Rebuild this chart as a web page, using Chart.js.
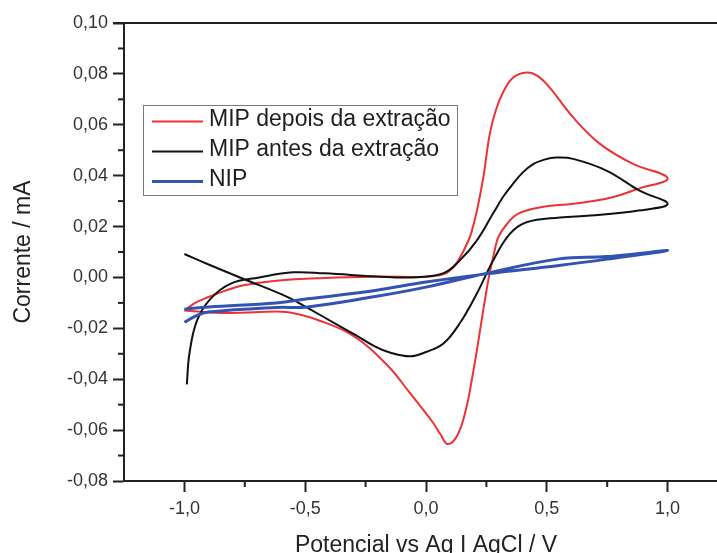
<!DOCTYPE html>
<html>
<head>
<meta charset="utf-8">
<script src="https://cdn.jsdelivr.net/npm/chart.js@4.4.0/dist/chart.umd.min.js"></script>
<style>
html, body { margin:0; padding:0; overflow:hidden; background:#fff; }
#wrap { width:740px; height:570px; }
</style>
</head>
<body>
<div id="wrap"><canvas id="cv"></canvas></div>
<script>
// MIP depois da extração (red)
const redPotential = [-1.00,-0.955,-0.90,-0.83,-0.76,-0.62,-0.42,-0.21,0.00,0.07,0.113,0.15,0.189,0.233,0.264,0.29,0.32,0.36,0.417,0.46,0.512,0.609,0.72,0.855,1.00,
  0.884,0.75,0.61,0.47,0.38,0.335,0.30,0.285,0.26,0.235,0.21,0.19,0.165,0.13,0.09,0.06,0.03,-0.066,-0.16,-0.30,-0.44,-0.57,-0.71,-0.85,-1.00]
const redCurrent = [-0.013,-0.010,-0.0077,-0.0052,-0.0032,-0.0013,-0.0002,0.0003,0.0003,0.0012,0.004,0.0095,0.018,0.037,0.0564,0.066,0.073,0.0785,0.0805,0.0793,0.0746,0.0629,0.0525,0.0447,0.039,
  0.035,0.031,0.029,0.0275,0.025,0.021,0.016,0.011,0.000,-0.014,-0.029,-0.040,-0.052,-0.062,-0.0655,-0.0617,-0.0572,-0.0455,-0.0345,-0.023,-0.017,-0.0137,-0.0137,-0.014,-0.013]

// MIP antes da extração (black)
const blackPotential = [-1.00,-0.90,-0.76,-0.57,-0.49,-0.35,-0.30,-0.21,-0.15,-0.066,0.00,0.072,0.14,0.21,0.278,0.347,0.416,0.554,0.68,0.88,1.00,
  0.884,0.747,0.609,0.54,0.49,0.444,0.40,0.36,0.32,0.278,0.21,0.14,0.07,-0.066,-0.20,-0.42,-0.55,-0.69,-0.81,-0.893,-0.948,-0.979,-0.99]
const blackCurrent = [0.0092,0.0051,-0.0004,-0.0078,-0.0120,-0.0195,-0.0222,-0.0272,-0.0295,-0.031,-0.0293,-0.026,-0.018,-0.0064,0.0067,0.0171,0.0217,0.0236,0.0243,0.0263,0.0289,
  0.0341,0.042,0.0466,0.0471,0.0463,0.0445,0.0412,0.0368,0.0318,0.0252,0.0145,0.0067,0.0016,0.0,0.0004,0.0016,0.002,0.0,-0.0025,-0.0085,-0.017,-0.0298,-0.042]

// NIP (blue)
const bluePotential = [-1.00,-0.90,-0.62,-0.49,-0.21,0.00,0.25,0.55,0.75,1.00,
  0.75,0.55,0.25,0.00,-0.21,-0.49,-0.62,-0.90,-0.95,-1.00]
const blueCurrent = [-0.0125,-0.0116,-0.0100,-0.0084,-0.0051,-0.0018,0.0014,0.0047,0.0072,0.0106,
  0.0082,0.0073,0.0016,-0.0038,-0.0075,-0.0116,-0.0118,-0.0136,-0.015,-0.0176]

const seriesLabels = ['MIP depois da extração', 'MIP antes da extração', 'NIP']
const seriesColors = ['rgb(238,50,50)', 'rgb(17,17,17)', 'rgb(50,82,180)']

const xTickValues = [-1.0, -0.5, 0.0, 0.5, 1.0]
const yTicksMin = -0.08, yTicksMax = 0.10, yStep = 0.02
const xMin = -1.25, xMax = 1.25

const FONT = '"Liberation Sans", Arial, sans-serif'

function toPoints(xs, ys){
    return xs.map((x, i) => ({x: x, y: ys[i]}))
}

function comma(v, d){
    if (Math.abs(v) < 1e-9) v = 0
    return v.toFixed(d).replace('.', ',')
}

// minor ticks + top frame line
const frameAndMinor = {
    id: 'frameAndMinor',
    afterDraw(chart){
        const ctx = chart.ctx
        const area = chart.chartArea
        const xs = chart.scales.x, ys = chart.scales.y
        ctx.save()
        ctx.strokeStyle = '#222'
        ctx.lineWidth = 2
        ctx.beginPath()
        ctx.moveTo(area.left - 11, area.top)
        ctx.lineTo(area.right, area.top)
        ctx.stroke()
        const yt = ys.ticks
        for (let i = 0; i < yt.length - 1; i++) {
            const p = ys.getPixelForValue((yt[i].value + yt[i+1].value) / 2)
            ctx.beginPath(); ctx.moveTo(area.left - 6, p); ctx.lineTo(area.left, p); ctx.stroke()
        }
        const xt = xs.ticks
        for (let i = 0; i < xt.length - 1; i++) {
            const p = xs.getPixelForValue((xt[i].value + xt[i+1].value) / 2)
            ctx.beginPath(); ctx.moveTo(p, area.bottom); ctx.lineTo(p, area.bottom + 6); ctx.stroke()
        }
        ctx.restore()
    }
}

const boxLegend = {
    id: 'boxLegend',
    afterDraw(chart){
        const ctx = chart.ctx
        ctx.save()
        ctx.fillStyle = '#fff'
        ctx.fillRect(143.5, 105.5, 314, 90)
        ctx.strokeStyle = '#7a7a7a'
        ctx.lineWidth = 1
        ctx.strokeRect(143.5, 105.5, 314, 90)
        ctx.font = '23px ' + FONT
        ctx.textBaseline = 'middle'
        chart.data.datasets.forEach((ds, i) => {
            const y = 120 + i * 30
            ctx.strokeStyle = ds.borderColor
            ctx.lineWidth = ds.borderWidth
            ctx.beginPath(); ctx.moveTo(152, y + 1.5); ctx.lineTo(203, y + 1.5); ctx.stroke()
            ctx.fillStyle = '#1e1e1e'
            ctx.fillText(ds.label, 209, y)
        })
        ctx.restore()
    }
}

new Chart(document.getElementById('cv'), {
    type: 'line',
    data: {
        datasets: [
            {label: seriesLabels[0], data: toPoints(redPotential, redCurrent), borderColor: seriesColors[0], borderWidth: 2, order: 2},
            {label: seriesLabels[1], data: toPoints(blackPotential, blackCurrent), borderColor: seriesColors[1], borderWidth: 2, order: 1},
            {label: seriesLabels[2], data: toPoints(bluePotential, blueCurrent), borderColor: seriesColors[2], borderWidth: 3, order: 0}
        ]
    },
    options: {
        animation: false,
        responsive: true,
        maintainAspectRatio: false,
        layout: {padding: {top: 23, right: 12, left: 0, bottom: 0}},
        elements: {point: {radius: 0}, line: {tension: 0.4, fill: false}},
        plugins: {legend: {display: false}, tooltip: {enabled: false}},
        scales: {
            x: {
                type: 'linear',
                min: xMin, max: xMax,
                afterFit(scale){ scale.height = 89 },
                afterBuildTicks(scale){ scale.ticks = xTickValues.map(v => ({value: v})) },
                grid: {drawOnChartArea: false, tickLength: 11, tickWidth: 2, tickColor: '#222'},
                border: {display: true, color: '#222', width: 2},
                ticks: {padding: 6, color: '#333',
                    font: {family: FONT, size: 18},
                    callback: v => comma(v, 1)},
                title: {display: true, text: 'Potencial vs Ag I AgCl / V', color: '#222',
                    font: {family: FONT, size: 23}, padding: {top: 0, bottom: 11}}
            },
            y: {
                min: yTicksMin, max: yTicksMax,
                afterFit(scale){ scale.width = 124 },
                grid: {drawOnChartArea: false, tickLength: 11, tickWidth: 2, tickColor: '#222'},
                border: {display: true, color: '#222', width: 2},
                ticks: {stepSize: yStep, padding: 5, color: '#333',
                    font: {family: FONT, size: 18},
                    callback: v => comma(v, 2)},
                title: {display: true, text: 'Corrente / mA', color: '#222',
                    font: {family: FONT, size: 23}, padding: {top: 10, bottom: 0}}
            }
        }
    },
    plugins: [frameAndMinor, boxLegend]
})
</script>
</body>
</html>
